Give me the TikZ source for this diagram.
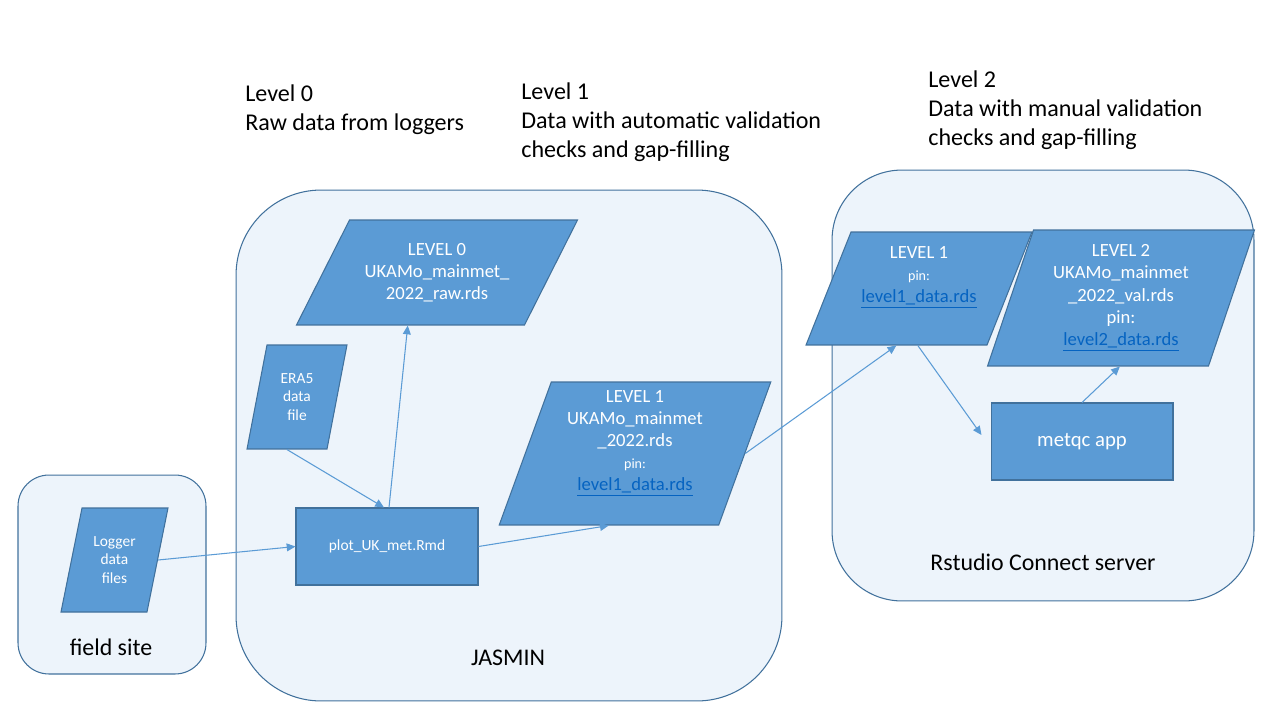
\documentclass[tikz,border=0pt]{standalone}
\usepackage{fontspec}
\setmainfont{Carlito}
\usetikzlibrary{arrows.meta}

\definecolor{boxfill}{HTML}{5B9BD5}
\definecolor{boxline}{HTML}{41719C}
\definecolor{zonefill}{HTML}{EDF4FB}
\definecolor{linkblue}{HTML}{0563C1}

\newcommand{\rdslink}[1]{\textcolor{linkblue}{\underline{#1}}}
\newcommand{\pinsize}{\fontsize{8}{10}\selectfont}

\tikzset{
  zone/.style={rectangle, draw=boxline, fill=zonefill, line width=0.6pt, inner sep=0pt},
  zonelabel/.style={inner sep=0pt, font=\fontsize{13.6}{16}\selectfont},
  heading/.style={anchor=west, align=left, inner sep=0pt, font=\fontsize{13.7}{16.5}\selectfont},
  datafile/.style={rectangle, xslant=#1, draw=boxline, fill=boxfill, line width=0.6pt, inner sep=0pt},
  process/.style={rectangle, draw=boxline, fill=boxfill, line width=0.6pt, inner sep=0pt,
    minimum width=3.64cm, minimum height=1.54cm, text=white},
  filetext/.style={text=white, align=center, inner sep=0pt, font=\fontsize{10.6}{12.6}\selectfont},
  smalltext/.style={filetext, font=\fontsize{8.8}{10.6}\selectfont},
  flow/.style={draw=boxfill, line width=0.6pt, -{Triangle[length=5pt,width=4.5pt]}}
}

\begin{document}
\begin{tikzpicture}[x=0.02cm, y=-0.02cm]
  \useasboundingbox (0,0) rectangle (1280,720);

  % the three places
  \node[zone, rounded corners=0.62cm, minimum width=3.76cm, minimum height=3.98cm] (fieldsite) at (112,574.5) {};
  \node[zone, rounded corners=1.7cm, minimum width=10.92cm, minimum height=10.22cm] (jasmin) at (509,445.5) {};
  \node[zone, rounded corners=1.4cm, minimum width=8.44cm, minimum height=8.62cm] (rstudio) at (1043,385.5) {};
  \node[zonelabel] (fieldsite-lbl) at (111,647) {field site};
  \node[zonelabel] (jasmin-lbl) at (508,658) {JASMIN};
  \node[zonelabel] (rstudio-lbl) at (1043,562) {Rstudio Connect server};

  \node[heading] (head0) at (245,109.5) {Level 0\\Raw data from loggers};
  \node[heading] (head1) at (521,122) {Level 1\\Data with automatic validation\\checks and gap-filling};
  \node[heading] (head2) at (928,110.5) {Level 2\\Data with manual validation\\checks and gap-filling};

  % files and scripts
  \node[datafile=0.202, minimum width=1.72cm, minimum height=2.08cm] (logger) at (114.5,560) {};
  \node[smalltext] (logger-txt) at (logger.center) {Logger\\data\\files};

  \node[datafile=0.192, minimum width=1.6cm, minimum height=2.08cm] (era5) at (297,397) {};
  \node[smalltext] (era5-txt) at (era5.center) {ERA5\\data\\file};

  \node[datafile=0.505, minimum width=4.56cm, minimum height=2.1cm] (lvl0) at (437,272.5) {};
  \node[filetext] (lvl0-txt) at (lvl0.center) {LEVEL 0\\UKAMo\_mainmet\_\\2022\_raw.rds};

  \node[process, font=\fontsize{8.8}{10.6}\selectfont] (plot) at (387,546.5) {plot\_UK\_met.Rmd};

  \node[datafile=0.364, minimum width=4.39cm, minimum height=2.86cm] (lvl1j) at (635,453.5) {};
  \node[filetext] (lvl1j-txt) at ([yshift=0.2cm]lvl1j.center) {LEVEL 1\\UKAMo\_mainmet\\\_2022.rds\\{\pinsize pin:}\\\rdslink{level1\_data.rds}};

  \node[datafile=0.398, minimum width=3.62cm, minimum height=2.26cm] (lvl1r) at (919,288.5) {};
  \node[filetext] (lvl1r-txt) at ([yshift=0.22cm]lvl1r.center) {LEVEL 1\\{\pinsize pin:}\\\rdslink{level1\_data.rds}};

  \node[datafile=0.338, minimum width=4.42cm, minimum height=2.72cm] (lvl2) at (1121,298) {};
  \node[filetext] (lvl2-txt) at (lvl2.center) {LEVEL 2\\UKAMo\_mainmet\\\_2022\_val.rds\\pin:\\\rdslink{level2\_data.rds}};

  \node[process, font=\fontsize{11.8}{14}\selectfont] (metqc) at (1082,441.5) {metqc app};
  \coordinate (qcin) at ([xshift=-0.18cm,yshift=0.13cm]metqc.west);

  % data flow
  \draw[flow] (logger.east) -- (plot.west);
  \draw[flow] (era5.south) -- ([xshift=-0.06cm]plot.north);
  \draw[flow] ([xshift=0.04cm]plot.north) -- ([xshift=-0.05cm]lvl0.south);
  \draw[flow] (plot.east) -- (lvl1j.south);
  \draw[flow] (lvl1j.east) -- (lvl1r.south);
  \draw[flow] ([xshift=0.43cm]lvl1r.south) -- (qcin);
  \draw[flow] (metqc.north) -- ([xshift=0.44cm]lvl2.south);
\end{tikzpicture}
\end{document}
